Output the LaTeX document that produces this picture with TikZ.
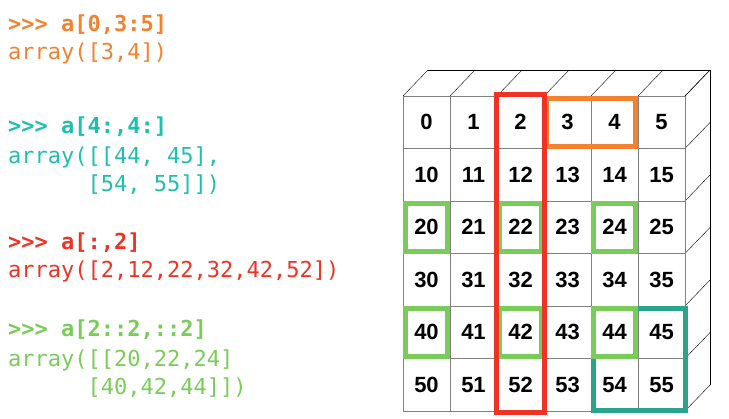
\documentclass[tikz,border=0pt]{standalone}
\usepackage{fontspec}
\setsansfont{Liberation Sans}
\setmonofont{DejaVu Sans Mono}
\usetikzlibrary{calc}
\definecolor{sliceorange}{HTML}{F4812F}
\definecolor{sliceteal}{HTML}{1FBFB0}
\definecolor{sliceteal2}{HTML}{2AA58A}
\definecolor{slicered}{HTML}{EE3224}
\definecolor{slicegreen}{HTML}{7ACC5A}

\begin{document}
\begin{tikzpicture}[x=1pt, y=-1pt,
    cell/.style={draw=gray, minimum width=47pt, minimum height=52.5pt, inner sep=0pt,
                 font=\sffamily\bfseries\fontsize{22}{24}\selectfont},
    code/.style={anchor=west, inner sep=0pt, font=\ttfamily\fontsize{22}{24}\selectfont},
    pick/.style={line width=5pt}]
						\useasboundingbox (0,0) rectangle (729,419);
						\def\cw{47}
						\def\ch{52.5}
						\def\dx{25}
						\def\dy{26}

						% depth of the block
						\foreach \i in {0,...,6}
							\draw[thin] (403+\i*\cw,96) -- ++(\dx,-\dy);
						\foreach \j in {0,...,6}
							\draw[thin] (403+6*\cw,96+\j*\ch) -- ++(\dx,-\dy);
						\draw[thin] (403+\dx,96-\dy) -- (403+6*\cw+\dx,96-\dy) -- (403+6*\cw+\dx,96+6*\ch-\dy);

						% the cells
						\foreach \r in {0,...,5}
							\foreach \c in {0,...,5}
								\node[cell] (c\r\c) at (403+\c*\cw+\cw/2, 96+\r*\ch+\ch/2) {\ifnum\r=0 \c\else\r\c\fi};

						% slices
						\draw[pick, sliceorange] ($(c03.north west)+(2.5,2.5)$) rectangle ($(c04.south east)+(-2.5,-2.5)$);
						\draw[pick, sliceteal2] ($(c44.north west)+(2.5,2.5)$) rectangle ($(c55.south east)+(0,-1)$);
						\foreach \r/\c in {2/0,2/2,2/4,4/0,4/2,4/4}
							\draw[pick, slicegreen] ($(c\r\c.north west)+(2.5,2.5)$) rectangle ($(c\r\c.south east)+(-2.5,-2.5)$);
						\draw[pick, slicered] ($(c02.north west)+(0,-1)$) rectangle ($(c52.south east)+(0,1)$);

						% code
						\node[code, sliceorange] (q1) at (8,25) {\bfseries >>> a[0,3:5]};
						\node[code, sliceorange] (a1) at (8,53) {array([3,4])};
						\node[code, sliceteal] (q2) at (8,127) {\bfseries >>> a[4:,4:]};
						\node[code, sliceteal] (a2) at (8,157) {array([[44, 45],};
						\node[code, sliceteal] (a2b) at (8,185) {\phantom{array(}[54, 55]])};
						\node[code, slicered] (q3) at (8,243) {\bfseries >>> a[:,2]};
						\node[code, slicered] (a3) at (8,271) {array([2,12,22,32,42,52])};
						\node[code, slicegreen] (q4) at (8,330) {\bfseries >>> a[2::2,::2]};
						\node[code, slicegreen] (a4) at (8,360) {array([[20,22,24]};
						\node[code, slicegreen] (a4b) at (8,388) {\phantom{array(}[40,42,44]])};
					\end{tikzpicture}
\end{document}
